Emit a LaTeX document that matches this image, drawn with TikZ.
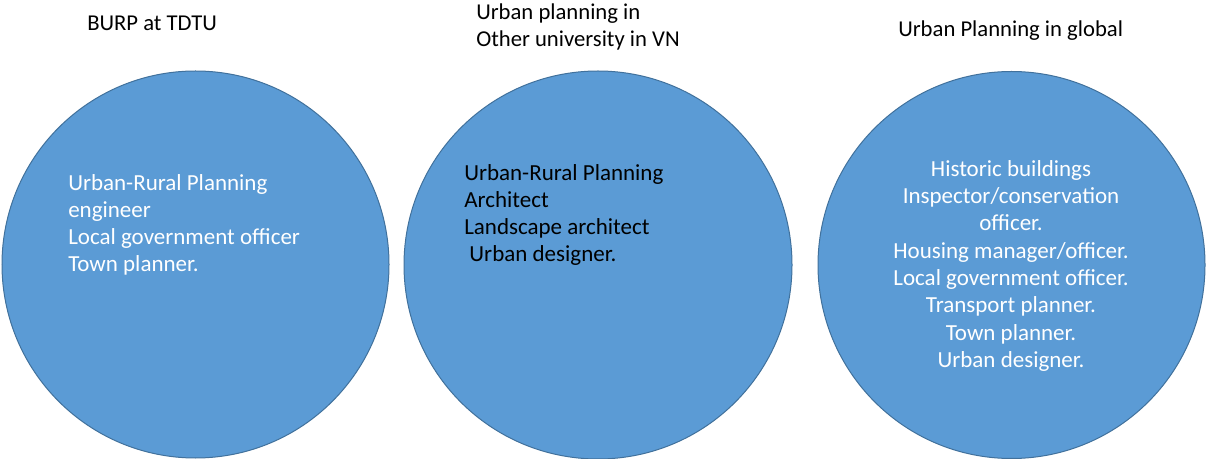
\documentclass[tikz,border=0pt]{standalone}
\usepackage{fontspec}
\setmainfont{Carlito}
\definecolor{circfill}{RGB}{91,155,213}
\definecolor{circline}{RGB}{65,113,156}
\tikzset{
  disc/.style={fill=circfill, draw=circline, line width=0.75pt},
  caption/.style={anchor=base west, inner sep=0pt, align=left, font=\fontsize{17}{20.25}\selectfont},
  careers/.style={inner sep=0pt, font=\fontsize{17.25}{20.25}\selectfont}
}
\begin{document}
\begin{tikzpicture}[x=0.75pt,y=0.75pt,yscale=-1,xscale=1]
        \useasboundingbox (0,0) rectangle (1212,459);
        
        %Shape: Circle [id:tdtu] 
        \draw [disc] (195.5,264.5) circle [radius=193.5];
        %Shape: Circle [id:vn] 
        \draw [disc] (598,265) circle [radius=194];
        %Shape: Circle [id:global] 
        \draw [disc] (1011.5,265) circle [radius=193.5];
        
        % Text Node
        \node (titleTDTU) at (87,31) [caption] {BURP at TDTU};
        % Text Node
        \node (titleVN) at (476,46.5) [caption] {Urban planning in\\Other university in VN};
        % Text Node
        \node (titleGlobal) at (898,37) [caption] {Urban Planning in global};
        
        % Text Node
        \node (jobsTDTU) at (68,271.3) [careers, anchor=base west, align=left, text=white] {Urban-Rural Planning\\engineer\\Local government officer\\Town planner.};
        % Text Node
        \node (jobsVN) at (464,261.3) [careers, anchor=base west, align=left, text=black] {Urban-Rural Planning\\Architect\\Landscape architect\\\ Urban designer.};
        % Text Node
        \node (jobsGlobal) at (1011,367.5) [careers, font=\fontsize{17.25}{20.5}\selectfont, anchor=base, align=center, text=white] {Historic buildings\\Inspector/conservation\\officer.\\Housing manager/officer.\\Local government officer.\\Transport planner.\\Town planner.\\Urban designer.};
        
\end{tikzpicture}
\end{document}
